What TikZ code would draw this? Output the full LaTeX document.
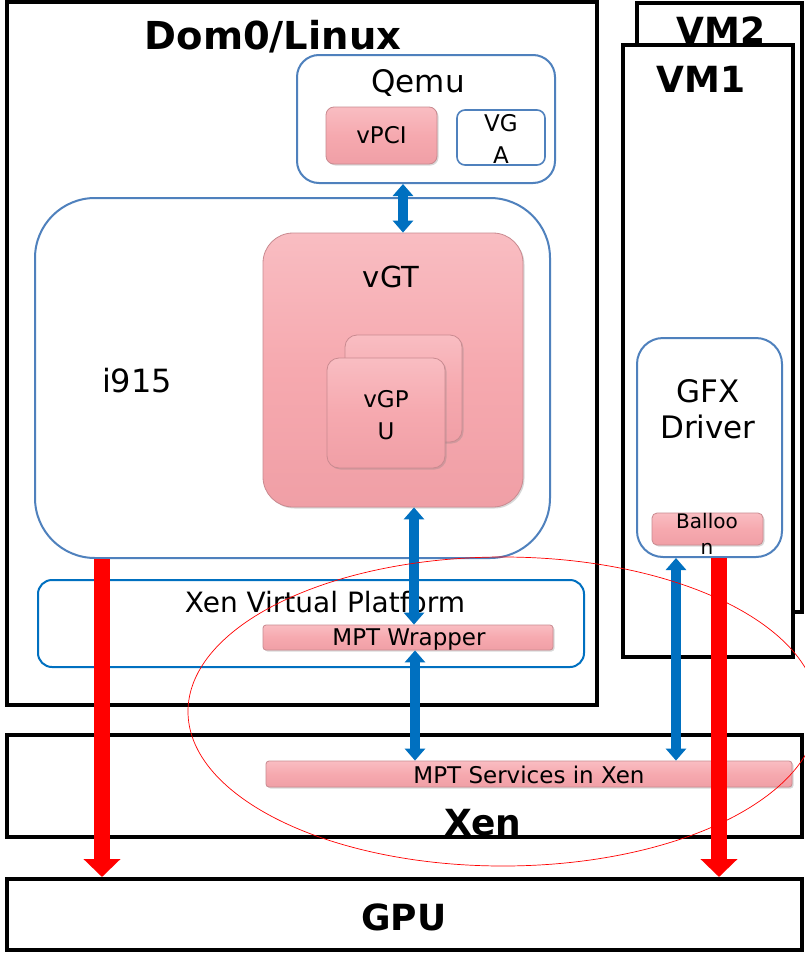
\documentclass[tikz,border=0pt]{standalone}
\usepackage{fontspec}
\setmainfont{DejaVu Sans}
\usetikzlibrary{arrows.meta, fit, shadows, shapes.geometric}
\definecolor{cline}{HTML}{4F81BD}
\definecolor{cblue}{HTML}{0070C0}
\definecolor{cpink}{HTML}{F6A9AF}
\definecolor{cpinkhi}{HTML}{F9BDC2}
\definecolor{cpinklo}{HTML}{F09FA6}
\definecolor{cpinkedge}{HTML}{C98A90}
\definecolor{cred}{HTML}{FF0000}
\tikzset{
  every picture/.style={x=1pt, y=-1pt},
  layer/.style={draw=black, fill=white, line width=4pt, inner sep=0pt},
  soft/.style={draw=cline, fill=white, line width=2pt, rounded corners=#1, inner sep=0pt},
  soft/.default=20pt,
  pinkbox/.style={draw=cpinkedge, line width=0.8pt, top color=cpinkhi, bottom color=cpinklo, middle color=cpink,
                  rounded corners=#1, inner sep=0pt, drop shadow={opacity=0.3, shadow xshift=1.5pt, shadow yshift=-1.5pt}},
  pinkbox/.default=8pt,
  title/.style={font=\fontsize{36}{40}\selectfont\bfseries, anchor=base},
  big/.style={font=\fontsize{31}{36}\selectfont, align=center},
  mid/.style={font=\fontsize{23}{32}\selectfont, align=center},
  small/.style={font=\fontsize{20}{26}\selectfont, align=center},
  biarrow/.style={{Triangle[width=20pt,length=12pt]}-{Triangle[width=20pt,length=12pt]}, draw=cblue, line width=10pt},
  bus/.style={-{Triangle[width=36pt,length=18pt]}, draw=cred, line width=16pt},
}
\begin{document}
\begin{tikzpicture}
  \clip (0,0) rectangle (805,953);
  % hypervisor and hardware
  \node[layer, fit={(7,735) (802,837)}] (xen) {};
  \node[title] (xentitle) at (483,835) {Xen};
  \node[layer, fit={(7,879) (802,950)}] (gpu) {};
  \node[title] (gputitle) at (404,930) {GPU};
  % guests
  \node[layer, fit={(637,3) (802,612)}] (vmtwo) {};
  \node[title] (vmtwotitle) at (721,43) {VM2};
  \node[layer, fit={(623,45) (793,657)}] (vmone) {};
  \node[title] (vmonetitle) at (701,92) {VM1};
  \node[soft=26pt, fit={(637,338) (782,557)}] (gfx) {};
  \node[big] (gfxtitle) at (708,409) {GFX\\Driver};
  \node[pinkbox=5pt, fit={(652,513) (763,545)}] (balloon) {};
  \node[small] (balloontxt) at (707,534) {Balloo\\n};
  % dom0
  \node[layer, fit={(7,2) (597,705)}] (dom0) {};
  \node[title, font=\fontsize{38.5}{42}\selectfont\bfseries] (dom0title) at (273,49) {Dom0/Linux};
  \node[soft=22pt, fit={(297,55) (555,183)}] (qemu) {};
  \node[big, anchor=base] (qemutitle) at (418,92) {Qemu};
  \node[pinkbox, fit={(326,107) (437,164)}] (vpci) {};
  \node[mid] (vpcitxt) at (vpci.center) {vPCI};
  \node[soft=8pt, line width=1.6pt, fit={(457,110) (545,165)}] (vga) {};
  \node[mid] (vgatxt) at ([yshift=-1.5pt]vga.center) {VG\\A};
  \node[soft=60pt, fit={(35,198) (550,558)}] (ifive) {};
  \node[big, font=\fontsize{32}{36}\selectfont, anchor=base] (ifivetitle) at (137,392) {i915};
  \node[pinkbox=30pt, fit={(263,233) (523,507)}] (vgt) {};
  \node[big, font=\fontsize{29}{36}\selectfont, anchor=base] (vgttitle) at (391,287) {vGT};
  \node[pinkbox=12pt, fit={(345,335) (462,442)}] (vgpuback) {};
  \node[pinkbox=12pt, fit={(327,358) (445,468)}] (vgpu) {};
  \node[mid] (vgputxt) at ([yshift=-2pt]vgpu.center) {vGP\\U};
  \node[soft=14pt, draw=cblue, fit={(38,580) (584,667)}] (xvp) {};
  \node[font=\fontsize{28}{34}\selectfont, anchor=base] (xvptitle) at (325,612) {Xen Virtual Platform};
  \node[pinkbox=3pt, fit={(263,625) (553,650)}] (wrapper) {};
  \node[mid] (wrappertxt) at ([xshift=1pt, yshift=-2pt]wrapper.center) {MPT Wrapper};
  \node[pinkbox=3pt, fit={(266,761) (792,787)}] (services) {};
  \node[mid] (servicestxt) at ([yshift=-1pt]services.center) {MPT Services in Xen};
  % connectors
  \coordinate (qa) at ([xshift=-23pt]qemu.south);
  \coordinate (va) at ([xshift=21pt]vgt.south);
  \coordinate (wa) at ([xshift=7pt]wrapper.south);
  \coordinate (ga) at ([xshift=-33.5pt]gfx.south);
  \coordinate (ia) at ([xshift=-190.5pt]ifive.south);
  \coordinate (gb) at ([xshift=9.5pt]gfx.south);
  \draw[biarrow] (qa) -- (qa |- vgt.north);
  \draw[biarrow] (va) -- (va |- wrapper.north);
  \draw[biarrow] (wa) -- (wa |- services.north);
  \draw[biarrow] (ga) -- (ga |- services.north);
  \draw[bus] (ia) -- (ia |- gpu.north);
  \draw[bus] (gb) -- (gb |- gpu.north);
  % mediated pass-through
  \node[ellipse, draw=cred, line width=0.7pt, minimum width=630pt, minimum height=309pt, inner sep=0pt] (mpt) at (503,711.5) {};
\end{tikzpicture}
\end{document}
